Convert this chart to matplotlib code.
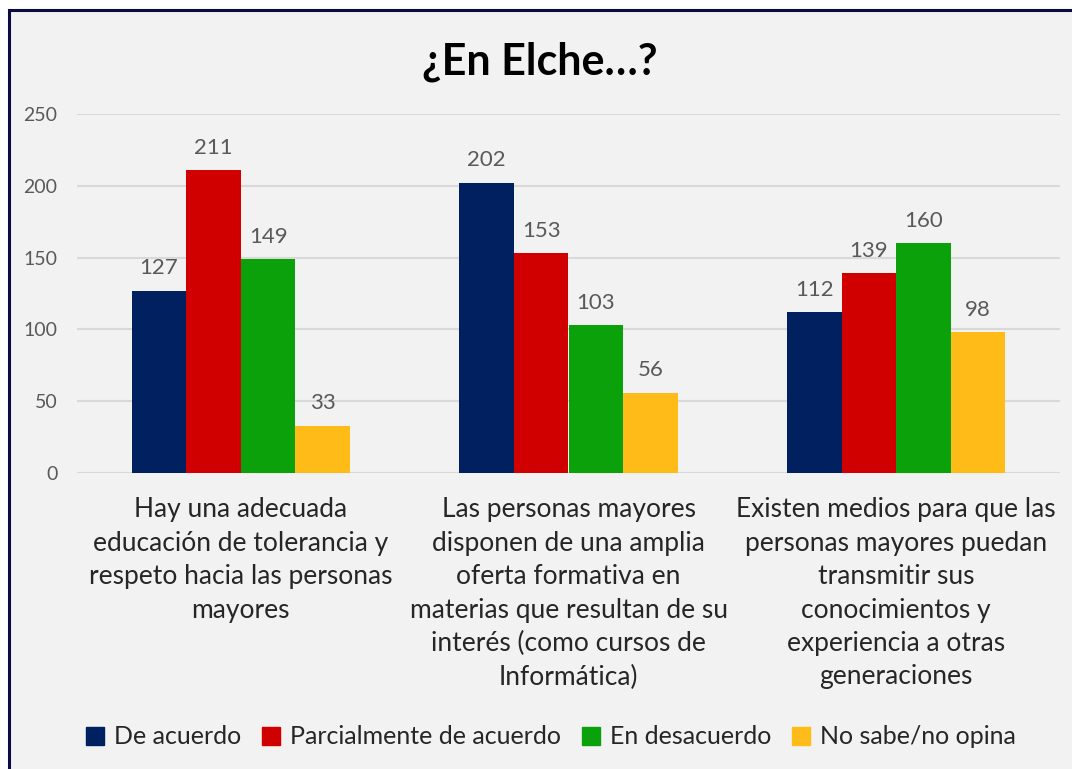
import matplotlib
matplotlib.use("Agg")
import matplotlib.pyplot as plt
import matplotlib.patches as mpatches
import numpy as np

categories = [
    "Hay una adecuada\neducación de tolerancia y\nrespeto hacia las personas\nmayores",
    "Las personas mayores\ndisponen de una amplia\noferta formativa en\nmaterias que resultan de su\ninterés (como cursos de\nInformática)",
    "Existen medios para que las\npersonas mayores puedan\ntransmitir sus\nconocimientos y\nexperiencia a otras\ngeneraciones",
]
series_names = ["De acuerdo", "Parcialmente de acuerdo", "En desacuerdo", "No sabe/no opina"]
de_acuerdo = [127, 202, 112]
parcialmente = [211, 153, 139]
en_desacuerdo = [149, 103, 160]
no_sabe = [33, 56, 98]
yticks = [0, 50, 100, 150, 200, 250]

colors = ["#002060", "#D00000", "#0AA10A", "#FFBB18"]
values = [de_acuerdo, parcialmente, en_desacuerdo, no_sabe]

FONT = ["Lato", "DejaVu Sans"]
plt.rcParams["font.family"] = FONT

fig = plt.figure(figsize=(10.72, 7.69), dpi=100, facecolor="white")
bg = mpatches.Rectangle((9 / 1072, -0.05), 1.1, 1 - 10 / 769 + 0.05,
                        transform=fig.transFigure, facecolor="#F2F2F2",
                        edgecolor="#0B0B40", linewidth=2.2, zorder=-10)
fig.patches.append(bg)

ax = fig.add_axes([77 / 1072, 1 - 473 / 769, (1060 - 77) / 1072, (473 - 114) / 769])
ax.set_facecolor("none")

x = np.arange(len(categories))
w = 0.1667
for i, (name, vals, c) in enumerate(zip(series_names, values, colors)):
    pos = x + (i - 1.5) * w
    bars = ax.bar(pos, vals, width=w, color=c, label=name, zorder=3)
    for b, v in zip(bars, vals):
        ax.annotate(str(v), (b.get_x() + b.get_width() / 2, v),
                    xytext=(0, 9), textcoords="offset points",
                    ha="center", va="bottom", fontsize=16, color="#595959")

ax.set_xlim(-0.5, 2.5)
ax.set_ylim(0, 250)
ax.set_yticks(yticks)
ax.set_yticklabels([str(t) for t in yticks], fontsize=14, color="#595959")
ax.yaxis.grid(True, color="#D9D9D9", linewidth=1.5, zorder=0)
ax.set_axisbelow(True)
ax.set_xticks(x)
ax.set_xticklabels(categories, fontsize=19, color="#262626", linespacing=1.42)
ax.tick_params(axis="both", length=0)
ax.tick_params(axis="x", pad=17.5)
ax.tick_params(axis="y", pad=14)
for s in ax.spines.values():
    s.set_visible(False)

fig.text(540 / 1072, 1 - 62 / 769, "¿En Elche…?", ha="center", va="center",
         fontsize=31, fontweight="bold", color="black")

handles = [mpatches.Patch(color=c) for c in colors]
fig.legend(handles, series_names, loc="center", bbox_to_anchor=(551 / 1072, 1 - 737 / 769),
           ncol=4, frameon=False, fontsize=18, handlelength=0.7, handleheight=0.7,
           handletextpad=0.4, columnspacing=0.85, labelcolor="#262626")

fig.savefig("out.png", dpi=100, facecolor="white")
